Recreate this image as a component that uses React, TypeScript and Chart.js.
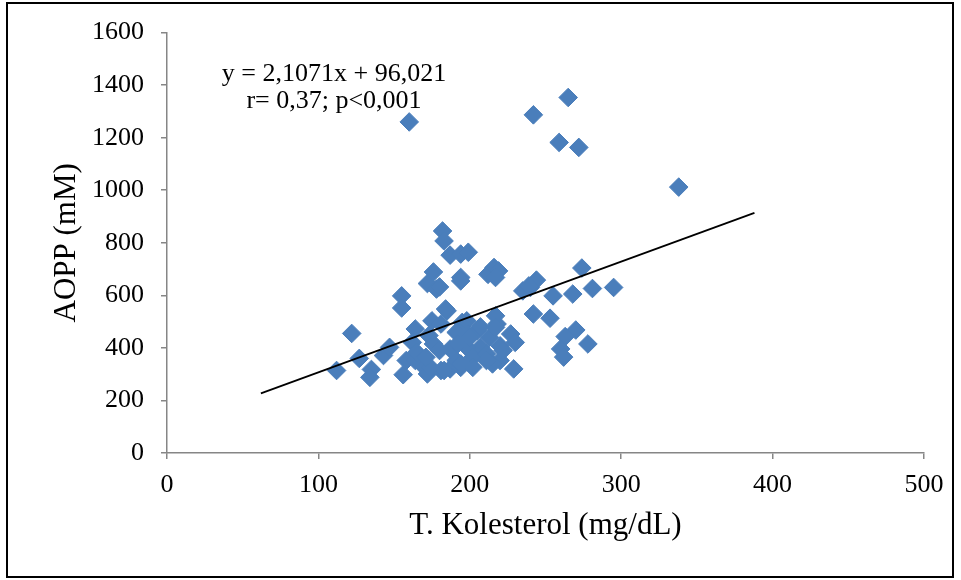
import React, { useEffect, useRef } from "react";
import { Chart, registerables } from "chart.js";

Chart.register(...registerables);

// Total cholesterol (mg/dL)
const cholesterol: number[] = [
  112, 122, 127, 135, 134, 143, 147, 156, 155, 155,
  160, 164, 162, 163, 158, 164, 170, 172, 172, 176,
  178, 180, 182, 183, 187, 194, 199, 194, 194, 185,
  175, 173, 176, 165, 181, 187, 191, 195, 198, 191,
  199, 205, 207, 198, 187, 180, 202, 194, 202, 211,
  213, 218, 217, 220, 227, 230, 229, 220, 215, 212,
  216, 219, 217, 240, 235, 244, 239, 242, 253, 255,
  268, 274, 281, 295, 270, 263, 278, 260, 262, 242,
  265, 259, 272, 338, 181, 217, 222, 183, 174, 171,
  194, 211, 200, 192, 207, 184,
];
// AOPP (mM)
const aopp: number[] = [
  314, 455, 360, 318, 288, 371, 402, 298, 598, 552,
  1260, 472, 421, 364, 352, 352, 326, 301, 645, 689,
  624, 632, 845, 807, 753, 757, 764, 668, 655, 541,
  503, 447, 415, 383, 314, 320, 352, 497, 503, 459,
  453, 465, 402, 402, 396, 390, 364, 326, 326, 377,
  440, 491, 522, 408, 453, 421, 320, 352, 339, 680,
  706, 693, 668, 630, 617, 658, 636, 529, 513, 598,
  605, 704, 626, 630, 468, 443, 415, 396, 365, 1287,
  1353, 1182, 1163, 1012, 491, 478, 390, 314, 326, 364,
  339, 352, 440, 415, 480, 548,
];

// Linear trendline shown on the chart: y = 2,1071x + 96,021
const trendSlope = 2.1071;
const trendIntercept = 96.021;
const trendXRange: number[] = [62, 388];

const xTicks: number[] = [0, 100, 200, 300, 400, 500];
const yTicks: number[] = [0, 200, 400, 600, 800, 1000, 1200, 1400, 1600];

const equationLines: string[] = ["y = 2,1071x + 96,021", "r= 0,37; p<0,001"];
const xTitle = "T. Kolesterol (mg/dL)";
const yTitle = "AOPP (mM)";

const SERIF = "'Liberation Serif', 'Times New Roman', serif";

export default function App() {
  const ref = useRef<HTMLCanvasElement | null>(null);

  useEffect(() => {
    if (!ref.current) return;
    const points = cholesterol.map((x, i) => ({ x, y: aopp[i] }));
    const trend = trendXRange.map((x) => ({ x, y: trendSlope * x + trendIntercept }));

    const framePlugin = {
      id: "frameAndText",
      beforeDraw(chart: any) {
        const ctx = chart.ctx;
        ctx.save();
        ctx.fillStyle = "#ffffff";
        ctx.fillRect(0, 0, chart.width, chart.height);
        ctx.restore();
      },
      afterDraw(chart: any) {
        const ctx = chart.ctx;
        ctx.save();
        ctx.strokeStyle = "#000000";
        ctx.lineWidth = 2;
        ctx.strokeRect(7, 3, 946, 574);
        ctx.fillStyle = "#000000";
        ctx.font = `26px ${SERIF}`;
        ctx.textAlign = "center";
        ctx.textBaseline = "alphabetic";
        ctx.fillText(equationLines[0], 334, 81);
        ctx.fillText(equationLines[1], 334, 108);
        ctx.restore();
      },
    };

    const chart = new Chart(ref.current, {
      type: "scatter",
      data: {
        datasets: [
          {
            type: "line",
            data: trend,
            borderColor: "#000000",
            borderWidth: 1.8,
            pointRadius: 0,
            fill: false,
            order: 0,
          } as any,
          {
            data: points,
            pointStyle: "rectRot",
            pointRadius: 9.3,
            pointBackgroundColor: "#4a7ebb",
            pointBorderColor: "#4a7ebb",
            pointBorderWidth: 1,
            order: 1,
          },
        ],
      },
      options: {
        animation: false,
        responsive: false,
        devicePixelRatio: 1,
        layout: { padding: { top: 31, right: 37, left: 0, bottom: 0 } },
        plugins: { legend: { display: false }, tooltip: { enabled: false } },
        scales: {
          x: {
            type: "linear",
            min: 0,
            max: 500,
            afterBuildTicks: (s: any) => {
              s.ticks = xTicks.map((v) => ({ value: v }));
            },
            afterFit: (s: any) => {
              s.height = 127;
            },
            grid: {
              drawOnChartArea: false,
              drawTicks: true,
              tickLength: 6,
              color: "#868686",
              lineWidth: 1.5,
            },
            border: { color: "#868686", width: 1.5 },
            ticks: {
              color: "#000000",
              font: { family: SERIF, size: 26 },
              padding: 11,
              maxRotation: 0,
              callback: (v: any) => String(v),
            },
            title: {
              display: true,
              text: xTitle,
              color: "#000000",
              font: { family: SERIF, size: 31 },
              padding: { top: 0, bottom: 36 },
            },
          },
          y: {
            type: "linear",
            min: 0,
            max: 1600,
            afterBuildTicks: (s: any) => {
              s.ticks = yTicks.map((v) => ({ value: v }));
            },
            afterFit: (s: any) => {
              s.width = 167;
            },
            grid: {
              drawOnChartArea: false,
              drawTicks: true,
              tickLength: 6,
              color: "#868686",
              lineWidth: 1.5,
            },
            border: { color: "#868686", width: 1.5 },
            ticks: {
              color: "#000000",
              font: { family: SERIF, size: 26 },
              padding: 17,
              callback: (v: any) => String(v),
            },
            title: {
              display: true,
              text: yTitle,
              color: "#000000",
              font: { family: SERIF, size: 31 },
              padding: { top: 48, bottom: 0 },
            },
          },
        },
      },
      plugins: [framePlugin],
    });
    return () => chart.destroy();
  }, []);

  return (
    <div style={{ position: "absolute", left: 0, top: 0, width: 961, height: 580 }}>
      <canvas ref={ref} width={961} height={580} style={{ width: 961, height: 580, display: "block" }} />
    </div>
  );
}
